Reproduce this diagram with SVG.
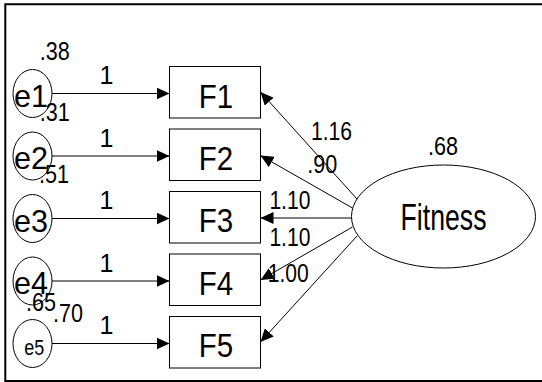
<svg xmlns="http://www.w3.org/2000/svg" width="542" height="382" viewBox="0 0 542 382">
<defs>
<marker id="ah" markerUnits="userSpaceOnUse" viewBox="0 0 13 12" refX="13" refY="6" markerWidth="13" markerHeight="12" orient="auto"><path d="M0,0 L13,6 L0,12 z" fill="#000"/></marker>
</defs>
<style>
text{font-family:"Liberation Sans",Arial,sans-serif;fill:#000}
.big{font-size:34px;text-anchor:middle}
.fit{font-size:37px;text-anchor:middle}
.sm{font-size:25px}
.one{font-size:25px;text-anchor:middle}
.node{fill:#fff;stroke:#000;stroke-width:1}
.conn{stroke:#000;stroke-width:1;fill:none;marker-end:url(#ah)}
</style>
<rect width="542" height="382" fill="#fff"/>
<path d="M542,4.3 H5.3 V381 H542" fill="none" stroke="#000" stroke-width="2"/>

<g id="connectors">
<path class="conn" d="M52,93.5 H169.5"/>
<path class="conn" d="M52,156 H169.5"/>
<path class="conn" d="M52,218.5 H169.5"/>
<path class="conn" d="M52,281 H169.5"/>
<path class="conn" d="M52,343.5 H169.5"/>
<path class="conn" d="M357,199 L260.5,92"/>
<path class="conn" d="M352.5,208 L260.5,155.5"/>
<path class="conn" d="M351.5,218 L260.5,218"/>
<path class="conn" d="M352.5,227 L260.5,280"/>
<path class="conn" d="M357,236 L260.5,342"/>
</g>

<g id="e1"><ellipse class="node" cx="32.5" cy="93.5" rx="19.5" ry="24"/><text class="big" x="31" y="106.5" font-size="32" textLength="34" lengthAdjust="spacingAndGlyphs" style="font-size:32px">e1</text></g>
<g id="e2"><ellipse class="node" cx="32.5" cy="156" rx="19.5" ry="24"/><text class="big" x="31" y="169" textLength="34" lengthAdjust="spacingAndGlyphs" style="font-size:32px">e2</text></g>
<g id="e3"><ellipse class="node" cx="32.5" cy="218.5" rx="19.5" ry="24"/><text class="big" x="31" y="231.5" textLength="34" lengthAdjust="spacingAndGlyphs" style="font-size:32px">e3</text></g>
<g id="e4"><ellipse class="node" cx="32.5" cy="281" rx="19.5" ry="24"/><text class="big" x="31" y="294" textLength="34" lengthAdjust="spacingAndGlyphs" style="font-size:32px">e4</text></g>
<g id="e5"><ellipse class="node" cx="32.5" cy="343.5" rx="19.5" ry="24"/><text class="big" x="34.2" y="355" textLength="20" lengthAdjust="spacingAndGlyphs" style="font-size:22px">e5</text></g>

<g id="F1"><rect class="node" x="169.5" y="66.5" width="91" height="51.5"/><text class="big" x="216" y="107.5" textLength="34.4" lengthAdjust="spacingAndGlyphs">F1</text></g>
<g id="F2"><rect class="node" x="169.5" y="129" width="91" height="51.5"/><text class="big" x="216" y="170" textLength="34.4" lengthAdjust="spacingAndGlyphs">F2</text></g>
<g id="F3"><rect class="node" x="169.5" y="191.5" width="91" height="51.5"/><text class="big" x="216" y="232" textLength="34.4" lengthAdjust="spacingAndGlyphs">F3</text></g>
<g id="F4"><rect class="node" x="169.5" y="254" width="91" height="51.5"/><text class="big" x="216" y="294.5" textLength="34.4" lengthAdjust="spacingAndGlyphs">F4</text></g>
<g id="F5"><rect class="node" x="169.5" y="316.5" width="91" height="51.5"/><text class="big" x="216" y="357" textLength="34.4" lengthAdjust="spacingAndGlyphs">F5</text></g>

<g id="Fitness"><ellipse class="node" cx="443.5" cy="216.5" rx="92" ry="51.5"/><text class="fit" x="443.5" y="230" textLength="86" lengthAdjust="spacingAndGlyphs">Fitness</text></g>

<g id="labels">
<text class="sm" x="39.7" y="60" textLength="30" lengthAdjust="spacingAndGlyphs">.38</text>
<text class="sm" x="39.7" y="121" textLength="30" lengthAdjust="spacingAndGlyphs">.31</text>
<text class="sm" x="39" y="183" textLength="30" lengthAdjust="spacingAndGlyphs">.51</text>
<text class="sm" x="26" y="311" textLength="30" lengthAdjust="spacingAndGlyphs">.65</text>
<text class="sm" x="53" y="322" textLength="30" lengthAdjust="spacingAndGlyphs">.70</text>
<text class="one" x="106.5" y="84">1</text>
<text class="one" x="106.5" y="146.5">1</text>
<text class="one" x="106.5" y="209">1</text>
<text class="one" x="106.5" y="271.5">1</text>
<text class="one" x="106.5" y="334">1</text>
<text class="sm" x="311" y="140" textLength="41" lengthAdjust="spacingAndGlyphs">1.16</text>
<text class="sm" x="307.3" y="173" textLength="30" lengthAdjust="spacingAndGlyphs">.90</text>
<text class="sm" x="269.4" y="209.3" textLength="41" lengthAdjust="spacingAndGlyphs">1.10</text>
<text class="sm" x="269.4" y="246" textLength="41" lengthAdjust="spacingAndGlyphs">1.10</text>
<text class="sm" x="267.7" y="281.7" textLength="41" lengthAdjust="spacingAndGlyphs">1.00</text>
<text class="sm" x="428" y="155" textLength="30" lengthAdjust="spacingAndGlyphs">.68</text>
</g>
</svg>
